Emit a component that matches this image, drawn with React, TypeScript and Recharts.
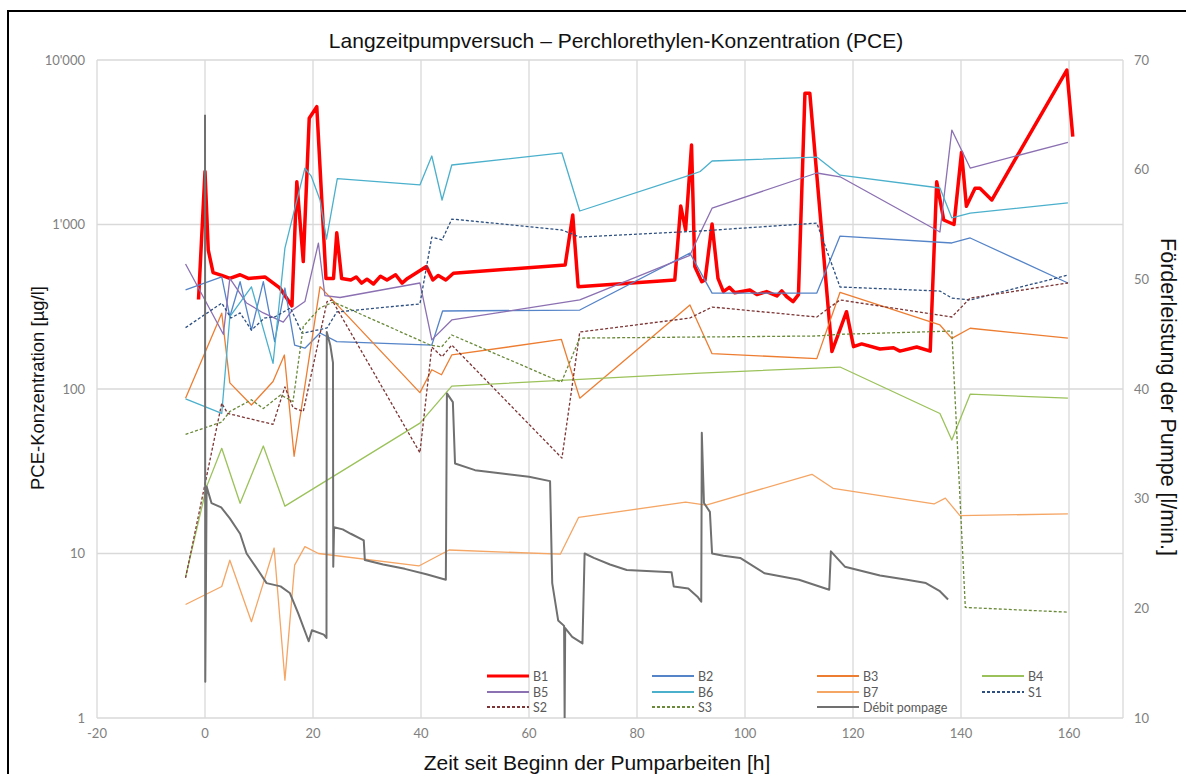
import { CartesianGrid, Line, LineChart, XAxis, YAxis } from 'recharts';

type Pt = [number, number];

// axis ticks
const xTicks = [-20, 0, 20, 40, 60, 80, 100, 120, 140, 160];
const concTicks = [1, 10, 100, 1000, 10000];
const flowTicks = [10, 20, 30, 40, 50, 60, 70];

// PCE concentration [µg/l] per well, [hours, value]
const b1: Pt[] = [
  [-1.2, 350], [0, 2100], [0.6, 700], [1.5, 510], [3.1, 490], [4.6, 470], [6.5, 495], [8, 470],
  [11.1, 480], [13.9, 410], [16.1, 320], [17, 1820], [18.2, 595], [19.3, 4420], [20.7, 5200],
  [22.4, 470], [23.8, 470], [24.4, 890], [25.3, 470], [27, 460], [28, 480], [29, 440], [30, 465],
  [31.2, 435], [32.5, 485], [33.7, 460], [35.3, 495], [36.5, 440], [37.5, 470], [41, 555],
  [42.2, 460], [43.2, 490], [44.6, 460], [46, 505], [66.7, 568], [68.1, 1143], [69.1, 419],
  [87, 460], [88.1, 1296], [89, 926], [90.1, 3040], [90.7, 555], [92, 449], [92.6, 460],
  [93.9, 1007], [95, 470], [96, 391], [97.1, 415], [98.1, 385], [100.9, 400], [102.2, 375],
  [104, 391], [105.9, 368], [106.8, 395], [107.7, 365], [108.9, 340], [109.9, 375], [111.1, 6280],
  [112, 6280], [116.1, 169], [118.8, 295], [120.1, 181], [121.6, 188], [125, 175], [127.5, 178],
  [128.7, 170], [131.8, 180], [134.3, 170], [135.5, 1820], [136.8, 1065], [138.7, 1000],
  [140.1, 2750], [141, 1290], [142.6, 1660], [143.5, 1660], [145.7, 1409], [159.6, 8690],
  [160.7, 3420],
];
const b2: Pt[] = [
  [-3.6, 400], [3.1, 480], [4.6, 275], [6.5, 449], [8.6, 228], [10.8, 449], [12.9, 194],
  [14.8, 411], [16.6, 185], [18.5, 177], [21.3, 219], [24.4, 194], [42, 185], [44, 298],
  [69.4, 302], [89.8, 670], [93.9, 383], [113.3, 383], [117.6, 851], [138.3, 772], [141.7, 828],
  [159.8, 441],
];
const b3: Pt[] = [
  [-3.6, 88], [3.1, 289], [4.6, 109], [8.6, 80], [12.6, 111], [14.7, 161], [16.5, 39], [21.3, 419],
  [39.8, 95], [42, 131], [43.8, 122], [45.7, 161], [66, 200], [69.4, 88], [89.8, 324], [93.9, 164],
  [113.3, 153], [117.6, 387], [136.1, 245], [138.3, 203], [141.7, 234], [159.8, 204],
];
const b4: Pt[] = [
  [-3.6, 7.2], [0.3, 25.5], [3.1, 43.6], [6.5, 20.2], [10.8, 45], [14.8, 19.4], [39.8, 62],
  [45.7, 104], [91.7, 125], [117.6, 136], [136.1, 71], [138.3, 49], [141.7, 93], [159.8, 88],
];
const b5: Pt[] = [
  [-3.6, 575], [3.4, 215], [4.6, 470], [7.7, 333], [10.8, 290], [14.5, 255], [16.1, 300],
  [18.5, 340], [21, 770], [22.2, 370], [25, 360], [39.8, 441], [42, 199], [45.7, 263], [69.4, 348],
  [89.8, 650], [91.7, 888], [93.9, 1257], [113.3, 2056], [117.6, 1950], [136.1, 900],
  [138.3, 3750], [141.7, 2205], [159.8, 3160],
];
const b6: Pt[] = [
  [-3.6, 87], [3.1, 71], [4.6, 275], [8.6, 418], [12.6, 143], [14.8, 718], [18.5, 2200],
  [19.7, 1960], [21.3, 1410], [22.5, 815], [24.5, 1900], [39.8, 1740], [42, 2608], [43.9, 1409],
  [45.7, 2300], [66.1, 2723], [69.4, 1208], [89.8, 1997], [91.7, 2100], [93.9, 2432],
  [113.3, 2570], [117.6, 1995], [136.1, 1667], [138.3, 1097], [141.7, 1174], [159.8, 1352],
];
const b7: Pt[] = [
  [-3.6, 4.9], [3.1, 6.3], [4.6, 9.1], [8.6, 3.85], [12.8, 10.8], [14.8, 1.7], [16.6, 8.5],
  [18.5, 11], [21, 10], [39.6, 8.4], [45.2, 10.5], [65.8, 9.9], [69.2, 16.6], [89, 20.5],
  [92.8, 19.7], [112.4, 30.3], [116.3, 24.9], [135, 20], [137.1, 21.7], [139.8, 17],
  [159.8, 17.4],
];
const s1: Pt[] = [
  [-3.6, 236], [3.1, 333], [4.8, 270], [6.5, 290], [8.6, 228], [11, 270], [13, 275], [15.8, 311],
  [18, 218], [22.6, 235], [24.4, 294], [39.8, 329], [42, 839], [43.9, 805], [45.7, 1079],
  [66.1, 926], [69.4, 839], [91.7, 913], [113.3, 1020], [117.6, 417], [136.1, 394], [138.3, 357],
  [141.7, 348], [159.8, 493],
];
const s2: Pt[] = [
  [-3.6, 7.1], [3.1, 82], [4.2, 71], [12.6, 61], [14.8, 103], [16.3, 77], [18.2, 73], [22.6, 340],
  [23.5, 348], [39.8, 41], [42, 180], [43.9, 157], [45.7, 185], [66.1, 38], [69.4, 222],
  [89.8, 270], [93.9, 315], [113.3, 274], [117.6, 348], [138.3, 274], [141.7, 357], [159.8, 441],
];
const s3: Pt[] = [
  [-3.6, 53], [3.1, 63], [4.6, 73], [8.6, 86], [10.8, 76], [14, 92], [16.3, 84], [18.2, 240],
  [21.3, 311], [23.8, 338], [41.7, 185], [43.8, 180], [45.7, 213], [66, 110], [69.4, 204],
  [91.7, 207], [113.3, 210], [117.6, 215], [138.3, 225], [140.8, 4.7], [159.8, 4.4],
];

// pump rate [l/min], right axis
const debit: Pt[] = [
  [0, 65], [0.05, 13.3], [0.3, 31.1], [1.2, 29.6], [3, 29.2], [4.6, 28.2], [6.5, 26.8], [7.7, 25],
  [10.2, 23.2], [11.4, 22.3], [14, 22], [15.7, 21.4], [17.3, 19.5], [19.2, 17], [19.8, 18],
  [22, 17.6], [22.5, 17.3], [22.55, 45.2], [23.2, 44], [23.7, 42.4], [23.75, 23.8], [23.9, 27.4],
  [25.5, 27.2], [27, 26.8], [29.4, 26.2], [29.6, 24.4], [33, 24], [37, 23.6], [41, 23.1],
  [44.6, 22.6], [44.8, 39.6], [45.9, 38.8], [46.3, 33.2], [50, 32.6], [55, 32.3], [60, 32],
  [63.9, 31.6], [64.3, 22.3], [65.4, 18.9], [66.5, 18.4], [66.6, 10], [66.7, 18.2], [68, 17.4],
  [69.9, 16.8], [70.3, 25], [72, 24.6], [75, 24], [78.1, 23.5], [86.4, 23.3], [86.8, 22],
  [89.5, 21.8], [91.3, 21], [91.9, 20.6], [92, 36], [92.4, 29.6], [93.5, 28.8], [93.9, 25],
  [96, 24.8], [99.1, 24.6], [103.6, 23.2], [110, 22.6], [115.6, 21.7], [115.9, 25.2],
  [118.5, 23.8], [125, 23], [130, 22.6], [133.5, 22.3], [136, 21.6], [137.6, 20.8],
];

const rows = (pts: Pt[]) => pts.map(([x, y]) => ({ x, y }));

type Series = {
  name: string;
  pts: Pt[];
  color: string;
  width: number;
  dash?: string;
  axis: 'left' | 'right';
};

// legend order (4 columns, row by row)
const series: Series[] = [
  { name: 'B1', pts: b1, color: '#ff0000', width: 3.5, axis: 'left' },
  { name: 'B2', pts: b2, color: '#5584c8', width: 1.3, axis: 'left' },
  { name: 'B3', pts: b3, color: '#ed7d31', width: 1.3, axis: 'left' },
  { name: 'B4', pts: b4, color: '#9bc25a', width: 1.3, axis: 'left' },
  { name: 'B5', pts: b5, color: '#8b70b2', width: 1.3, axis: 'left' },
  { name: 'B6', pts: b6, color: '#4bb0cc', width: 1.3, axis: 'left' },
  { name: 'B7', pts: b7, color: '#f5a564', width: 1.3, axis: 'left' },
  { name: 'S1', pts: s1, color: '#2c4f80', width: 1.3, dash: '3 2', axis: 'left' },
  { name: 'S2', pts: s2, color: '#7d3434', width: 1.3, dash: '3 2', axis: 'left' },
  { name: 'S3', pts: s3, color: '#6a8a3a', width: 1.3, dash: '3 2', axis: 'left' },
  { name: 'Débit pompage', pts: debit, color: '#707070', width: 2, axis: 'right' },
];

const fmtConc = (v: number) => String(v).replace(/\B(?=(\d{3})+(?!\d))/g, "'");

const tickStyle = { fill: '#808080', fontSize: 13, fontFamily: 'Lato, sans-serif' };
const labelFont = '"Liberation Sans", Arial, sans-serif';

function ChartLegend() {
  const colX = [487, 652, 817, 982];
  const rowY = [676, 692, 707];
  return (
    <g>
      {series.map((s, i) => {
        const x = colX[i % 4];
        const y = rowY[Math.floor(i / 4)];
        return (
          <g key={s.name}>
            <line
              x1={x}
              x2={x + 42}
              y1={y}
              y2={y}
              stroke={s.color}
              strokeWidth={s.name === 'B1' ? 3 : 1.8}
              strokeDasharray={s.dash}
            />
            <text
              x={x + 46}
              y={y}
              dominantBaseline="central"
              fontSize={12.5}
              fontFamily="Lato, sans-serif"
              fill="#595959"
            >
              {s.name}
            </text>
          </g>
        );
      })}
    </g>
  );
}

export default function App() {
  return (
    <div
      style={{
        position: 'fixed',
        left: 0,
        top: 0,
        width: 1186,
        height: 774,
        overflow: 'hidden',
        background: '#fff',
      }}
    >
      <div
        style={{
          position: 'absolute',
          left: 7,
          top: 10,
          width: 1200,
          height: 800,
          border: '2px solid #000',
          boxSizing: 'border-box',
        }}
      />
      <div style={{ position: 'absolute', left: 0, top: 0 }}>
        <LineChart width={1186} height={774} margin={{ top: 60, right: 23, bottom: 26, left: 37 }}>
          <CartesianGrid yAxisId="left" stroke="#d9d9d9" strokeWidth={1.3} />
          <XAxis
            dataKey="x"
            type="number"
            domain={[-20, 170]}
            ticks={xTicks}
            allowDataOverflow
            axisLine={false}
            tickLine={false}
            tickSize={0}
            tickMargin={11}
            height={30}
            tick={tickStyle}
          />
          <YAxis
            yAxisId="left"
            scale="log"
            domain={[1, 10000]}
            ticks={concTicks}
            allowDataOverflow
            axisLine={false}
            tickLine={false}
            tickSize={0}
            tickMargin={12}
            width={60}
            tick={tickStyle}
            tickFormatter={fmtConc}
          />
          <YAxis
            yAxisId="right"
            orientation="right"
            domain={[10, 70]}
            ticks={flowTicks}
            allowDataOverflow
            axisLine={false}
            tickLine={false}
            tickSize={0}
            tickMargin={11}
            width={40}
            tick={{ ...tickStyle, textAnchor: 'start' }}
          />
          {series.map((s) => (
            <Line
              key={s.name}
              name={s.name}
              data={rows(s.pts)}
              dataKey="y"
              yAxisId={s.axis}
              type="linear"
              stroke={s.color}
              strokeWidth={s.width}
              strokeDasharray={s.dash}
              strokeLinejoin="round"
              dot={false}
              activeDot={false}
              isAnimationActive={false}
            />
          ))}
        </LineChart>
      </div>
      <svg
        width={1186}
        height={774}
        style={{ position: 'absolute', left: 0, top: 0, pointerEvents: 'none' }}
      >
        <text x={616} y={48} textAnchor="middle" fontSize={21} fontFamily={labelFont} fill="#111">
          Langzeitpumpversuch – Perchlorethylen-Konzentration (PCE)
        </text>
        <text
          x={0}
          y={0}
          transform="translate(37 388) rotate(-90)"
          textAnchor="middle"
          dominantBaseline="central"
          fontSize={18.5}
          fontFamily={labelFont}
          fill="#111"
        >
          PCE-Konzentration [µg/l]
        </text>
        <text
          x={0}
          y={0}
          transform="translate(1168 397) rotate(90)"
          textAnchor="middle"
          dominantBaseline="central"
          fontSize={21.5}
          fontFamily={labelFont}
          fill="#111"
        >
          Förderleistung der Pumpe [l/min.]
        </text>
        <text
          x={597}
          y={762}
          textAnchor="middle"
          dominantBaseline="central"
          fontSize={21}
          fontFamily={labelFont}
          fill="#111"
        >
          Zeit seit Beginn der Pumparbeiten [h]
        </text>
        <ChartLegend />
      </svg>
    </div>
  );
}
